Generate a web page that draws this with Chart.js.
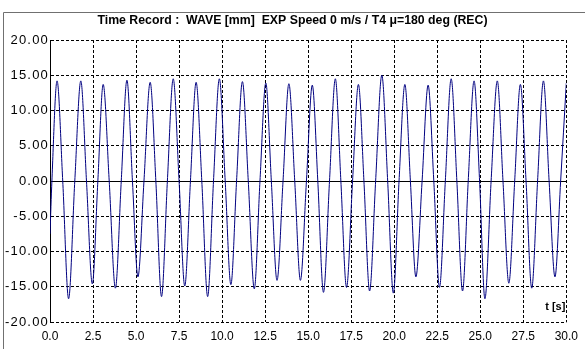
<!DOCTYPE html>
<html>
<head>
<meta charset="utf-8">
<script src="https://cdn.jsdelivr.net/npm/chart.js@4/dist/chart.umd.min.js"></script>
<style>
  html, body { margin: 0; padding: 0; background: #fff; }
  #wrap { position: relative; width: 585px; height: 349px; }
  canvas { position: absolute; left: 0; top: 0; }
</style>
</head>
<body>
<div id="wrap"><canvas id="c" width="585" height="349"></canvas></div>
<script>
const chartTitle = 'Time Record :  WAVE [mm]  EXP Speed 0 m/s / T4 \u03bc=180 deg (REC)';
const xAxisLabel = 't [s]';
const xTicks = [0, 2.5, 5, 7.5, 10, 12.5, 15, 17.5, 20, 22.5, 25, 27.5, 30];
const yTicks = [-20, -15, -10, -5, 0, 5, 10, 15, 20];

// time [s] and wave elevation [mm], read from the record (peaks, troughs, zero crossings)
const times = [
  0.00, 0.11, 0.41, 0.74, 1.08, 1.44, 1.79, 2.12, 2.46, 2.78,
  3.09, 3.44, 3.80, 4.14, 4.47, 4.79, 5.11, 5.46, 5.82, 6.15,
  6.48, 6.82, 7.16, 7.50, 7.83, 8.16, 8.49, 8.82, 9.16, 9.50,
  9.84, 10.18, 10.51, 10.84, 11.18, 11.52, 11.87, 12.20, 12.54, 12.86,
  13.19, 13.54, 13.88, 14.22, 14.55, 14.90, 15.24, 15.56, 15.89, 16.24,
  16.58, 16.90, 17.23, 17.58, 17.92, 18.24, 18.57, 18.92, 19.28, 19.62,
  19.95, 20.28, 20.62, 20.94, 21.26, 21.62, 21.97, 22.30, 22.63, 22.97,
  23.31, 23.64, 23.97, 24.30, 24.64, 24.96, 25.27, 25.63, 25.99, 26.32,
  26.66, 27.00, 27.33, 27.66, 27.99, 28.33, 28.67, 29.00, 29.34, 29.67,
  30.00
];
const wave = [
  -7.5, 0, 14.2, 0, -16.7, 0, 14.2, 0, -14.6, 0,
  13.7, 0, -15.2, 0, 14.3, 0, -13.6, 0, 14.0, 0,
  -16.4, 0, 14.5, 0, -14.9, 0, 14.0, 0, -16.4, 0,
  14.5, 0, -14.7, 0, 14.1, 0, -15.3, 0, 13.9, 0,
  -14.1, 0, 13.8, 0, -14.1, 0, 13.6, 0, -15.8, 0,
  14.5, 0, -15.1, 0, 13.7, 0, -15.6, 0, 15.0, 0,
  -15.9, 0, 13.7, 0, -13.6, 0, 13.6, 0, -15.1, 0,
  14.5, 0, -15.6, 0, 14.2, 0, -16.7, 0, 14.2, 0,
  -14.5, 0, 13.7, 0, -15.2, 0, 14.2, 0, -13.6, 0,
  13.9
];

const FONT = '"Liberation Sans", Arial, sans-serif';

const framePlugin = {
  id: 'frame',
  afterLayout(chart) {
    const s = chart.scales.y;
    if (s && !s._spaced) {
      const orig = s.drawLabels;
      s.drawLabels = function (area) {
        const ctx = this.ctx;
        const prev = ctx.letterSpacing;
        ctx.letterSpacing = '1.2px';
        orig.call(this, area);
        ctx.letterSpacing = prev || '0px';
      };
      s._spaced = true;
    }
  },
  beforeDraw(chart) {
    const ctx = chart.ctx;
    ctx.save();
    ctx.strokeStyle = '#707070';
    ctx.lineWidth = 1;
    ctx.beginPath();
    ctx.moveTo(585, 12.5);
    ctx.lineTo(3.5, 12.5);
    ctx.lineTo(3.5, 349);
    ctx.stroke();
    ctx.restore();
  },
  beforeDatasetsDraw(chart) {
    const ctx = chart.ctx;
    const y0 = Math.round(chart.scales.y.getPixelForValue(0)) + 0.5;
    const a = chart.chartArea;
    ctx.save();
    ctx.strokeStyle = '#000';
    ctx.lineWidth = 1;
    ctx.beginPath();
    ctx.moveTo(a.left, y0);
    ctx.lineTo(a.right, y0);
    ctx.stroke();
    ctx.restore();
  },
  afterDraw(chart) {
    const ctx = chart.ctx;
    const a = chart.chartArea;
    ctx.save();
    ctx.fillStyle = '#000';
    ctx.font = 'bold 12.3px ' + FONT;
    ctx.textAlign = 'center';
    ctx.textBaseline = 'middle';
    ctx.fillText(chartTitle, 292.5, 21);
    ctx.font = 'bold 11px ' + FONT;
    ctx.textAlign = 'right';
    ctx.fillText(xAxisLabel, a.right - 1, a.bottom - 15);
    ctx.restore();
  }
};

new Chart(document.getElementById('c'), {
  type: 'line',
  data: {
    datasets: [{
      data: times.map((t, i) => ({ x: t, y: wave[i] })),
      borderColor: '#000080',
      borderWidth: 1,
      pointRadius: 0,
      fill: false,
      cubicInterpolationMode: 'monotone'
    }]
  },
  options: {
    responsive: false,
    animation: false,
    devicePixelRatio: 1,
    layout: { padding: { left: 0, right: 13, top: 40, bottom: 0 } },
    plugins: { legend: { display: false }, title: { display: false }, tooltip: { enabled: false } },
    scales: {
      x: {
        type: 'linear',
        min: 0, max: 30,
        afterBuildTicks: s => { s.ticks = xTicks.map(v => ({ value: v })); },
        afterFit: s => { s.height = 27; },
        grid: { color: '#000', lineWidth: 1, drawTicks: false },
        border: { display: false, dash: [3, 2] },
        ticks: {
          color: '#000', font: { family: FONT, size: 12 }, padding: 7,
          maxRotation: 0, autoSkip: false,
          callback: v => Number(v).toFixed(1)
        }
      },
      y: {
        type: 'linear',
        min: -20, max: 20,
        afterBuildTicks: s => { s.ticks = yTicks.map(v => ({ value: v })); },
        afterFit: s => { s.width = 50; },
        grid: { color: '#000', lineWidth: 1, drawTicks: false },
        border: { display: true, color: '#000', width: 1, dash: [3, 2] },
        ticks: {
          color: '#000', font: { family: FONT, size: 13 }, padding: 1,
          autoSkip: false,
          callback: v => Number(v).toFixed(2)
        }
      }
    }
  },
  plugins: [framePlugin]
});
</script>
</body>
</html>
